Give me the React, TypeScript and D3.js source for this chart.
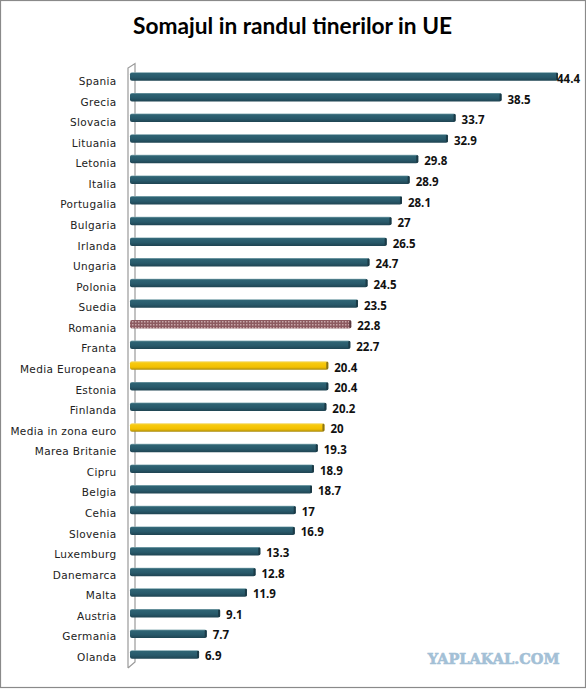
import { useEffect, useRef } from "react";
import * as d3 from "d3";

const categories = ["Spania", "Grecia", "Slovacia", "Lituania", "Letonia", "Italia", "Portugalia", "Bulgaria", "Irlanda", "Ungaria", "Polonia", "Suedia", "Romania", "Franta", "Media Europeana", "Estonia", "Finlanda", "Media in zona euro", "Marea Britanie", "Cipru", "Belgia", "Cehia", "Slovenia", "Luxemburg", "Danemarca", "Malta", "Austria", "Germania", "Olanda"];
const values = [44.4, 38.5, 33.7, 32.9, 29.8, 28.9, 28.1, 27, 26.5, 24.7, 24.5, 23.5, 22.8, 22.7, 20.4, 20.4, 20.2, 20, 19.3, 18.9, 18.7, 17, 16.9, 13.3, 12.8, 11.9, 9.1, 7.7, 6.9];
const averages = ["Media Europeana", "Media in zona euro"];
const highlighted = ["Romania"];

const W = 586;
const H = 689;

export default function App() {
  const ref = useRef<SVGSVGElement | null>(null);

  useEffect(() => {
    const svgEl = ref.current;
    if (!svgEl) return;
    document.body.style.margin = "0";

    const svg = d3.select(svgEl);
    svg.selectAll("*").remove();
    svg.attr("width", W).attr("height", H).style("display", "block").style("background", "#fff");

    // ------- scales -------
    const x = d3.scaleLinear().domain([0, 44.4]).range([133, 558]);
    const y = d3.scalePoint<string>().domain(categories).range([76.5, 654.5]);
    // text sits on a slightly different pitch than the bars in the original
    const yLabel = d3.scalePoint<string>().domain(categories).range([85, 661]);
    const yValue = d3.scalePoint<string>().domain(categories).range([83, 660]);
    const barH = 8.5;

    // ------- gradients -------
    const defs = svg.append("defs");
    const grad = (id: string, stops: [number, string][]) => {
      const g = defs.append("linearGradient").attr("id", id).attr("x1", 0).attr("y1", 0).attr("x2", 0).attr("y2", 1);
      stops.forEach(([o, c]) => g.append("stop").attr("offset", o).attr("stop-color", c));
    };
    grad("teal", [[0, "#8fb3ba"], [0.14, "#2f6474"], [0.6, "#28596a"], [1, "#1f4452"]]);
    grad("gold", [[0, "#f3dc7a"], [0.2, "#f8cb10"], [0.7, "#f2bf00"], [1, "#a88a10"]]);

    const pat = defs.append("pattern").attr("id", "dots").attr("width", 3).attr("height", 3).attr("patternUnits", "userSpaceOnUse");
    pat.append("rect").attr("width", 3).attr("height", 3).attr("fill", "#8c5a60");
    pat.append("rect").attr("width", 1.5).attr("height", 1.5).attr("fill", "#c9a7aa");

    // frame
    svg.append("rect").attr("x", 0.5).attr("y", 0.5).attr("width", W - 1).attr("height", H - 2)
      .attr("fill", "none").attr("stroke", "#8a8a8a").attr("stroke-width", 1.2);

    // title
    svg.append("text").attr("x", 292.5).attr("y", 34).attr("text-anchor", "middle")
      .attr("font-family", "Lato, 'Open Sans', sans-serif").attr("font-weight", 700).attr("font-size", 22.7)
      .attr("fill", "#000").text("Somajul in randul tinerilor in UE");

    // 3d wall on the left
    const wall = d3.line();
    svg.append("path")
      .attr("d", wall([[128, 668], [128, 68], [135, 63.5], [135, 662], [128, 668]]))
      .attr("fill", "#fff").attr("stroke", "#9a9a9a").attr("stroke-width", 1.2);

    // ------- category labels -------
    svg.append("g").selectAll("text").data(categories).enter().append("text")
      .attr("x", 116.5).attr("y", (d) => yLabel(d)!)
      .attr("text-anchor", "end")
      .attr("font-family", "'DejaVu Sans', sans-serif").attr("font-size", 10.5)
      .attr("letter-spacing", 0.35)
      .attr("fill", "#222").text((d) => d);

    // ------- bars -------
    const rows = categories.map((name, i) => ({ name, value: values[i] }));
    const fillFor = (name: string) =>
      averages.includes(name) ? "url(#gold)" : highlighted.includes(name) ? "url(#dots)" : "url(#teal)";

    svg.append("g").selectAll("rect").data(rows).enter().append("rect")
      .attr("x", 130)
      .attr("y", (d) => y(d.name)! - barH / 2)
      .attr("width", (d) => x(d.value) - 130)
      .attr("height", barH)
      .attr("rx", 2)
      .attr("fill", (d) => fillFor(d.name));

    // dark end cap
    svg.append("g").selectAll("rect").data(rows).enter().append("rect")
      .attr("x", (d) => x(d.value) - 2)
      .attr("y", (d) => y(d.name)! - barH / 2 + 0.5)
      .attr("width", 2)
      .attr("height", barH - 1)
      .attr("rx", 1)
      .attr("fill", (d) => (averages.includes(d.name) ? "#8a7418" : d.name === "Romania" ? "#5a3a3e" : "#1b3a46"));

    // ------- value labels -------
    svg.append("g").selectAll("text").data(rows).enter().append("text")
      .attr("x", (d) => x(d.value) + (d.name === "Spania" ? -1 : 6))
      .attr("y", (d) => yValue(d.name)!)
      .attr("font-family", "'Open Sans', sans-serif").attr("font-weight", 700).attr("font-size", 11.5)
      .attr("fill", "#111").text((d) => d.value);

    // watermark
    svg.append("text").attr("x", 559.5).attr("y", 664).attr("text-anchor", "end")
      .attr("font-family", "'DejaVu Serif', serif").attr("font-weight", 700).attr("font-size", 14.5)
      .attr("fill", "#a3c0d6").attr("stroke", "#a3c0d6").attr("stroke-width", 0.6)
      .text("YAPLAKAL.COM");
  }, []);

  return <svg ref={ref} />;
}
